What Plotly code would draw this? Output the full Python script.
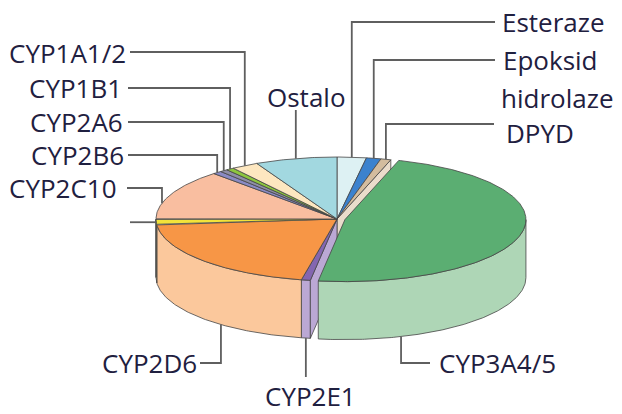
import numpy as np
import plotly.graph_objects as go

# ---------------- data ----------------
labels = ["Esteraze", "Epoksid hidrolaze", "DPYD", "CYP3A4/5", "CYP2E1", "CYP2D6", "",
          "CYP2C10", "CYP2B6", "CYP2A6", "CYP1B1", "CYP1A1/2", "Ostalo"]
values = [2.6, 1.3, 0.9, 47.5, 0.8, 20.3, 1.4, 13.2, 0.8, 0.7, 0.7, 2.4, 7.3]

# ---------------- styles ----------------
top_colors = ["#DDF1F3", "#3B82CE", "#D3BC9E", "#5BAE72", "#8466B0", "#F79646", "#F3E33A",
              "#F9BEA0", "#8A8AC4", "#8E8EA6", "#8DC63F", "#FDE7C0", "#A2D8E0"]
side_colors = ["#EEF8F9", "#9DC0E6", "#EADCCB", "#AED6B6", "#BBA8D4", "#FBC89C", "#F9F09A",
               "#FCDCCB", "#C4C4E2", "#C6C6D2", "#C6E29F", "#FEF3DF", "#D0ECF0"]
EDGE = "#454545"
LINE = "#5f5f5f"
TEXT = "#1f2040"
FONT = "Open Sans"
FSIZE = 26

CX, CY, RX, RY, DEPTH = 337.0, 219.0, 181.0, 62.0, 58.0
EXPLODE = {3: 0.045}

# label layout: text position/anchor, line start (x may be None -> vertical only), attach fraction
label_layout = {
    0: dict(tx=500, ty=22, xa="left", lx=495, ly=22),
    1: dict(tx=501, ty=60, xa="left", lx=495, ly=60, split=True, ty2=98, tx2=499),
    2: dict(tx=504, ty=133, xa="left", lx=494, ly=124),
    3: dict(tx=437, ty=363, xa="left", lx=430, ly=363, f=0.845),
    4: dict(tx=310, ty=396, xa="center", lx=None, ly=377),
    5: dict(tx=199, ty=363, xa="right", lx=200, ly=363, f=0.39),
    6: dict(tx=None, ty=None, xa="right", lx=130, ly="rim"),
    7: dict(tx=119, ty=188, xa="right", lx=127, ly=188, f=0.32),
    8: dict(tx=126, ty=155, xa="right", lx=128, ly=155),
    9: dict(tx=125, ty=122, xa="right", lx=128, ly=122),
    10: dict(tx=124, ty=88, xa="right", lx=128, ly=88),
    11: dict(tx=128, ty=53, xa="right", lx=130, ly=52),
    12: dict(tx=306, ty=97, xa="center", lx=None, ly=110),
}

# ---------------- geometry from values ----------------
total = float(sum(values))
sweeps = [v / total * 360.0 for v in values]
starts = []
a = 90.0
for s in sweeps:
    starts.append(a)
    a -= s


def offset(i):
    e = EXPLODE.get(i, 0.0)
    mid = np.radians(starts[i] - sweeps[i] / 2)
    return (e * RX * np.cos(mid), -e * RY * np.sin(mid))


def arc(t0, t1, off, z=0.0, n=None):
    if n is None:
        n = max(4, int(abs(t1 - t0) * 1.5) + 2)
    ts = np.radians(np.linspace(t0, t1, n))
    return (CX + off[0] + RX * np.cos(ts)).tolist(), (CY + off[1] - RY * np.sin(ts) + z).tolist()


def top_poly(i):
    off = offset(i)
    a0, a1 = starts[i], starts[i] - sweeps[i]
    ax, ay = arc(a0, a1, off)
    cx, cy = CX + off[0], CY + off[1]
    return [cx] + ax + [cx], [cy] + ay + [cy]


def wall_polys(i):
    off = offset(i)
    a0, a1 = starts[i], starts[i] - sweeps[i]
    polys = []
    for k in range(-1, 3):
        lo, hi = max(a1, -180 + 360 * k), min(a0, 360 * k)
        if hi - lo > 1e-6:
            tx, ty = arc(lo, hi, off, 0.0)
            bx, by = arc(hi, lo, off, DEPTH)
            polys.append((tx + bx + [tx[0]], ty + by + [ty[0]]))
    return polys


def radial_face(angle, off):
    t = np.radians(angle)
    rx_, ry_ = CX + off[0] + RX * np.cos(t), CY + off[1] - RY * np.sin(t)
    cx, cy = CX + off[0], CY + off[1]
    return [cx, rx_, rx_, cx, cx], [cy, ry_, ry_ + DEPTH, cy + DEPTH, cy]


fig = go.Figure()


def add_poly(xs, ys, color, width=0.8):
    fig.add_trace(go.Scatter(x=xs, y=ys, mode="lines", fill="toself", fillcolor=color,
                             line=dict(color=EDGE, width=width), hoverinfo="skip",
                             showlegend=False))


rest = [i for i in range(len(values)) if i not in EXPLODE]
# walls of the non-exploded part
for i in rest:
    for xs, ys in wall_polys(i):
        add_poly(xs, ys, side_colors[i])
# cut faces exposed by the exploded slices
for j in EXPLODE:
    prev_i = (j - 1) % len(values)
    next_i = (j + 1) % len(values)
    xs, ys = radial_face(starts[j], (0, 0))
    add_poly(xs, ys, side_colors[prev_i])
    xs, ys = radial_face(starts[j] - sweeps[j], (0, 0))
    add_poly(xs, ys, side_colors[next_i])
# tops of non-exploded part
for i in rest:
    xs, ys = top_poly(i)
    add_poly(xs, ys, top_colors[i])
# exploded slices
for j in EXPLODE:
    for xs, ys in wall_polys(j):
        add_poly(xs, ys, side_colors[j])
    xs, ys = top_poly(j)
    add_poly(xs, ys, top_colors[j])

# ---------------- labels & leader lines ----------------
shapes = []
annotations = []
for i, lab in enumerate(labels):
    L = label_layout[i]
    f = L.get("f", 0.5)
    t = starts[i] - f * sweeps[i]
    off = offset(i)
    ex = CX + off[0] + RX * np.cos(np.radians(t))
    ey = CY + off[1] - RY * np.sin(np.radians(t))
    if L["ly"] == "rim":
        path = f"M {L['lx']} {ey} L {ex} {ey}"
    else:
        if np.sin(np.radians(t)) < 0:
            ey += DEPTH
        if L["lx"] is None:
            path = f"M {ex} {L['ly']} L {ex} {ey}"
        else:
            path = f"M {L['lx']} {L['ly']} L {ex} {L['ly']} L {ex} {ey}"
    shapes.append(dict(type="path", path=path, xref="x", yref="y",
                       line=dict(color=LINE, width=1.8)))
    if L["tx"] is None or not lab:
        continue
    font = dict(family=FONT, size=FSIZE, color=TEXT)
    if L.get("split"):
        w1, w2 = lab.split(" ", 1)
        annotations.append(dict(x=L["tx"], y=L["ty"], text=w1, xanchor=L["xa"], yanchor="middle",
                                showarrow=False, font=font, xref="x", yref="y"))
        annotations.append(dict(x=L["tx2"], y=L["ty2"], text=w2, xanchor=L["xa"], yanchor="middle",
                                showarrow=False, font=font, xref="x", yref="y"))
    else:
        annotations.append(dict(x=L["tx"], y=L["ty"], text=lab, xanchor=L["xa"], yanchor="middle",
                                showarrow=False, font=font, xref="x", yref="y"))

fig.update_layout(
    width=622, height=414,
    margin=dict(l=0, r=0, t=0, b=0),
    paper_bgcolor="white", plot_bgcolor="white",
    xaxis=dict(range=[0, 622], visible=False, fixedrange=True),
    yaxis=dict(range=[414, 0], visible=False, fixedrange=True),
    shapes=shapes, annotations=annotations, showlegend=False,
)
fig.write_html("out.html", config={"displayModeBar": False},
               post_script="document.body.style.margin='0';")
